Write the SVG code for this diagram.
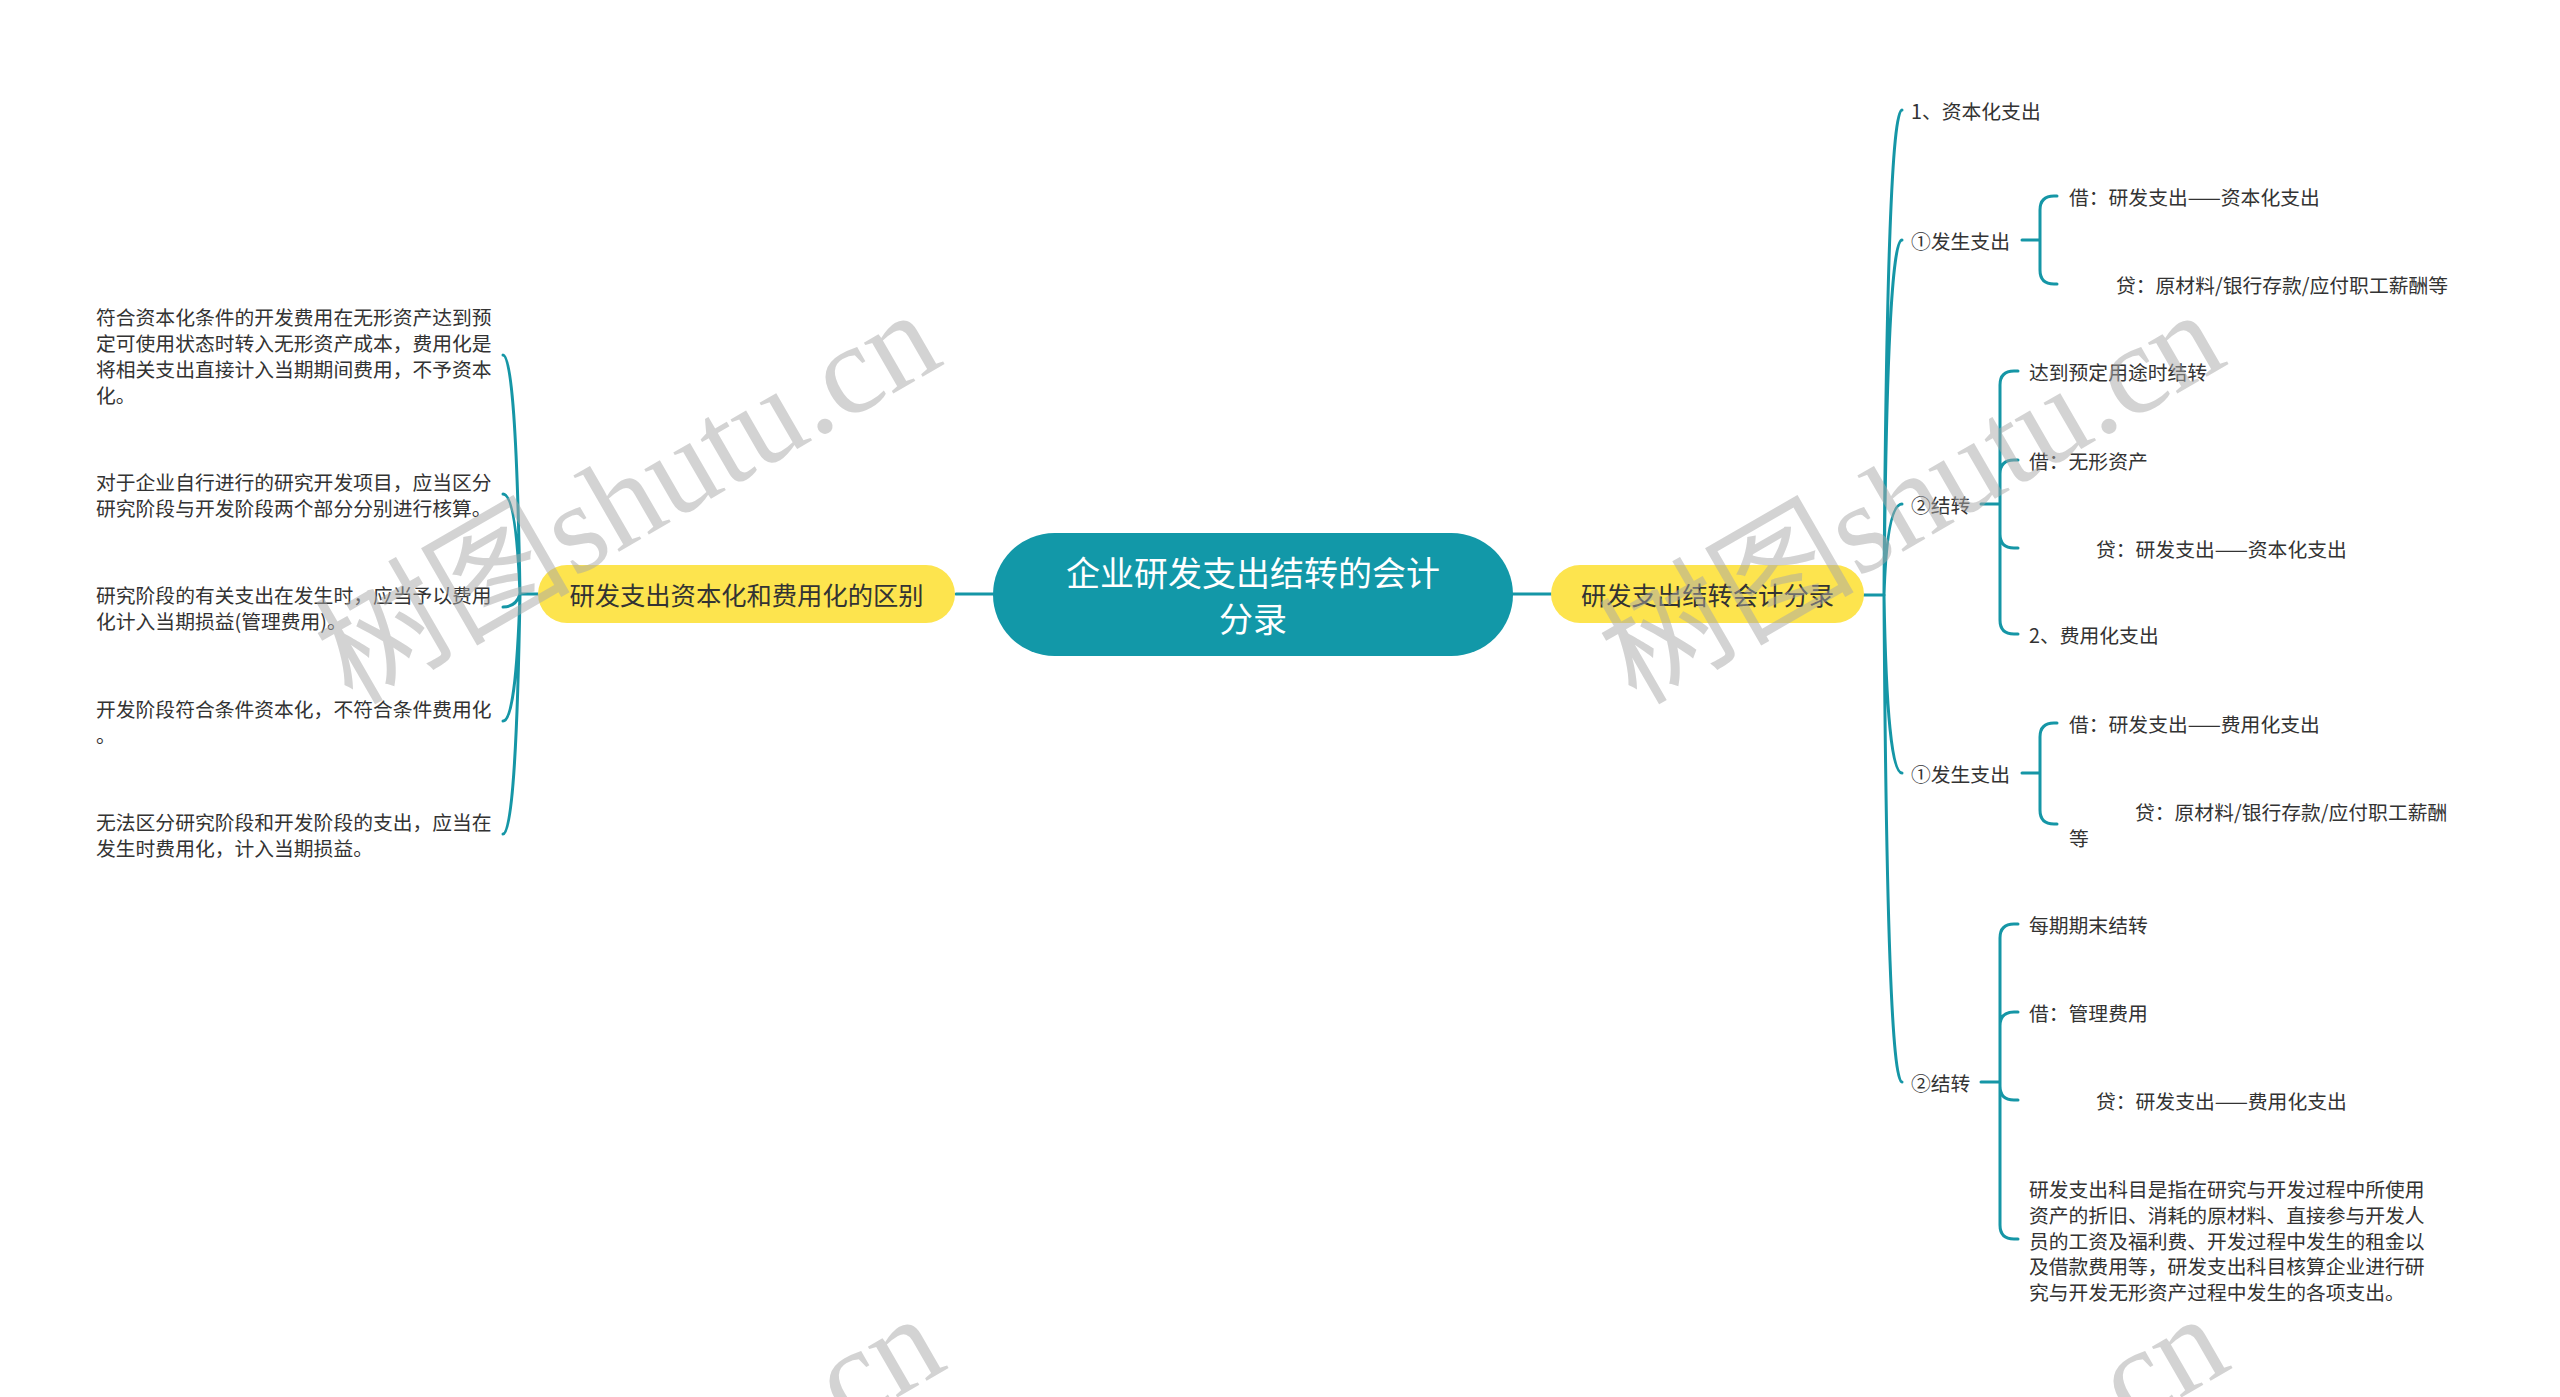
<svg xmlns="http://www.w3.org/2000/svg" width="2560" height="1397" viewBox="0 0 2560 1397">
<style>
.t{font-family:"Noto Sans CJK SC","Noto Sans",sans-serif;font-size:19.8px;fill:#333;dominant-baseline:central}
.ln{fill:none;stroke:#1596a6;stroke-width:3;stroke-linecap:round}
.main{font-family:"Noto Sans CJK SC","Noto Sans",sans-serif;font-size:25.3px;fill:#333;dominant-baseline:central;text-anchor:middle}
.ctr{font-family:"Noto Sans CJK SC","Noto Sans",sans-serif;font-size:34px;fill:#fff;dominant-baseline:central;text-anchor:middle}
.wm{font-family:"Liberation Serif","Noto Sans CJK SC",serif;font-size:128px;fill:#a8a8a8;opacity:0.5}
</style>
<rect width="2560" height="1397" fill="#fff"/>
<g id="connectors">
<path class="ln" d="M956 594H993M1513 594H1551"/>
<path class="ln" d="M538 594H520"/>
<path class="ln" d="M520 594Q516 355 503 355M520 594Q516 494 503 494M520 594Q516 607 503 607M520 594Q516 721 503 721M520 594Q516 834 503 834"/>
<path class="ln" d="M1864 595H1884"/>
<path class="ln" d="M1884 595Q1887 110 1902 110M1884 595Q1887 240 1902 240M1884 595Q1887 504 1902 504M1884 595Q1887 773 1902 773M1884 595Q1887 1082 1902 1082"/>
<path class="ln" d="M2022 240H2040M2040 240V210Q2040 196 2054 196H2057M2040 240V270Q2040 284 2054 284H2057"/>
<path class="ln" d="M1981 504H2000M2000 504V385Q2000 371 2014 371H2018M2000 504V474Q2000 460 2014 460H2018M2000 504V534Q2000 548 2014 548H2018M2000 504V620Q2000 634 2014 634H2018"/>
<path class="ln" d="M2022 773H2040M2040 773V737Q2040 723 2054 723H2057M2040 773V810Q2040 824 2054 824H2057"/>
<path class="ln" d="M1981 1082H2000M2000 1082V938Q2000 924 2014 924H2018M2000 1082V1026Q2000 1012 2014 1012H2018M2000 1082V1086Q2000 1100 2014 1100H2018M2000 1082V1225Q2000 1239 2014 1239H2018"/>
</g>
<g id="center"><rect x="993" y="533" width="520" height="123" rx="61.5" fill="#1298a8"/><text class="ctr" x="1253" y="571.5">企业研发支出结转的会计</text><text class="ctr" x="1253" y="617.5">分录</text></g>
<g id="left-main"><rect x="538" y="565" width="417" height="58" rx="29" fill="#fde44e"/><text class="main" x="746.5" y="594">研发支出资本化和费用化的区别</text></g>
<g id="right-main"><rect x="1551" y="565" width="313" height="58" rx="29" fill="#fde44e"/><text class="main" x="1707.5" y="594">研发支出结转会计分录</text></g>
<g id="l1"><text class="t" x="96" y="316">符合资本化条件的开发费用在无形资产达到预</text><text class="t" x="96" y="342">定可使用状态时转入无形资产成本，费用化是</text><text class="t" x="96" y="368">将相关支出直接计入当期期间费用，不予资本</text><text class="t" x="96" y="394">化。</text></g>
<g id="l2"><text class="t" x="96" y="481">对于企业自行进行的研究开发项目，应当区分</text><text class="t" x="96" y="507">研究阶段与开发阶段两个部分分别进行核算。</text></g>
<g id="l3"><text class="t" x="96" y="594">研究阶段的有关支出在发生时，应当予以费用</text><text class="t" x="96" y="620">化计入当期损益(管理费用)。</text></g>
<g id="l4"><text class="t" x="96" y="708">开发阶段符合条件资本化，不符合条件费用化</text><text class="t" x="96" y="734">。</text></g>
<g id="l5"><text class="t" x="96" y="821">无法区分研究阶段和开发阶段的支出，应当在</text><text class="t" x="96" y="847">发生时费用化，计入当期损益。</text></g>
<g id="r1"><text class="t" x="1911" y="110">1、资本化支出</text></g>
<g id="r2"><text class="t" x="1911" y="240">①发生支出</text></g>
<g id="r2a"><text class="t" x="2069" y="196">借：研发支出——资本化支出</text></g>
<g id="r2b"><text class="t" x="2116" y="284">贷：原材料/银行存款/应付职工薪酬等</text></g>
<g id="r3"><text class="t" x="1911" y="504">②结转</text></g>
<g id="r3a"><text class="t" x="2029" y="371">达到预定用途时结转</text></g>
<g id="r3b"><text class="t" x="2029" y="460">借：无形资产</text></g>
<g id="r3c"><text class="t" x="2096" y="548">贷：研发支出——资本化支出</text></g>
<g id="r3d"><text class="t" x="2029" y="634">2、费用化支出</text></g>
<g id="r4"><text class="t" x="1911" y="773">①发生支出</text></g>
<g id="r4a"><text class="t" x="2069" y="723">借：研发支出——费用化支出</text></g>
<g id="r4b"><text class="t" x="2135" y="811">贷：原材料/银行存款/应付职工薪酬</text><text class="t" x="2069" y="837">等</text></g>
<g id="r5"><text class="t" x="1911" y="1082">②结转</text></g>
<g id="r5a"><text class="t" x="2029" y="924">每期期末结转</text></g>
<g id="r5b"><text class="t" x="2029" y="1012">借：管理费用</text></g>
<g id="r5c"><text class="t" x="2096" y="1100">贷：研发支出——费用化支出</text></g>
<g id="r5d"><text class="t" x="2029" y="1188">研发支出科目是指在研究与开发过程中所使用</text><text class="t" x="2029" y="1214">资产的折旧、消耗的原材料、直接参与开发人</text><text class="t" x="2029" y="1240">员的工资及福利费、开发过程中发生的租金以</text><text class="t" x="2029" y="1265">及借款费用等，研发支出科目核算企业进行研</text><text class="t" x="2029" y="1291">究与开发无形资产过程中发生的各项支出。</text></g>
<g id="watermarks">
<text class="wm" transform="translate(352 706) rotate(-30)">树图shutu.cn</text>
<text class="wm" transform="translate(1636 706) rotate(-30)">树图shutu.cn</text>
<text class="wm" transform="translate(356 1710) rotate(-30)">树图shutu.cn</text>
<text class="wm" transform="translate(1640 1710) rotate(-30)">树图shutu.cn</text>
</g>
</svg>
